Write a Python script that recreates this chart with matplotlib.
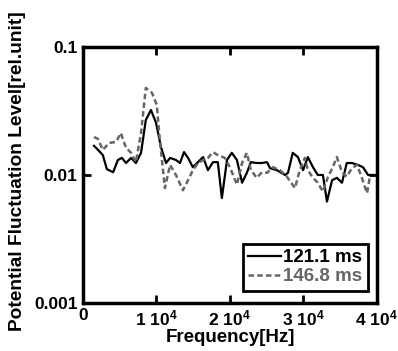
import matplotlib
matplotlib.use("Agg")
import matplotlib.pyplot as plt

plt.rcParams['font.family'] = ['Liberation Sans', 'DejaVu Sans']
plt.rcParams['font.weight'] = 'bold'
plt.rcParams['mathtext.fontset'] = 'custom'
plt.rcParams['mathtext.rm'] = 'Liberation Sans:bold'
plt.rcParams['mathtext.it'] = 'Liberation Sans:bold'
plt.rcParams['mathtext.bf'] = 'Liberation Sans:bold'

# 121.1 ms trace
freq_a = [1500, 2050, 2700, 3250, 4100, 4750, 5300, 5850, 6550, 7200,
          7900, 8550, 9250, 9950, 10600, 11300, 11850, 12650, 13200, 13750,
          14300, 14950, 15650, 16350, 17000, 17700, 18350, 18900, 19600, 20250,
          20950, 21650, 22300, 22850, 23650, 24350, 25050, 25450, 26400, 27500,
          27900, 28550, 29250, 29950, 30600, 31300, 31950, 32650, 33200, 33900,
          34550, 35250, 35900, 36600, 37400, 38100, 38800, 39450, 40000]
level_a = [0.0169, 0.0157, 0.0143, 0.0111, 0.0105, 0.0131, 0.0136, 0.0124, 0.0136, 0.0124,
           0.0149, 0.0269, 0.0322, 0.0255, 0.0166, 0.0124, 0.0136, 0.0131, 0.0124, 0.0151,
           0.0136, 0.0115, 0.0126, 0.0138, 0.0109, 0.0126, 0.0126, 0.0066, 0.0131, 0.0149,
           0.0131, 0.0087, 0.0104, 0.0126, 0.0124, 0.0124, 0.0126, 0.0113, 0.0109, 0.0100,
           0.0104, 0.0149, 0.0138, 0.0109, 0.0138, 0.0115, 0.0100, 0.0100, 0.0062, 0.0091,
           0.0095, 0.0087, 0.0124, 0.0124, 0.0120, 0.0115, 0.0100, 0.0100, 0.0100]

# 146.8 ms trace
freq_b = [1500, 2050, 2700, 3550, 4500, 5150, 5850, 6550, 7200, 7900,
          8550, 9400, 10050, 10450, 11150, 11850, 12650, 13600, 14300, 14950,
          15650, 16350, 17000, 17700, 18350, 19300, 20000, 20950, 21650, 22300,
          22850, 23650, 24350, 25050, 25850, 26800, 27750, 28850, 29500, 30200,
          30600, 31300, 31950, 32650, 33350, 34000, 34550, 35250, 35900, 36600,
          37300, 37950, 38650, 39050]
level_b = [0.0198, 0.0191, 0.0157, 0.0178, 0.0181, 0.0213, 0.0163, 0.0149, 0.0126, 0.0213,
           0.0479, 0.0438, 0.0352, 0.0188, 0.0079, 0.0120, 0.0100, 0.0076, 0.0091, 0.0109,
           0.0124, 0.0131, 0.0136, 0.0151, 0.0143, 0.0136, 0.0115, 0.0084, 0.0124, 0.0149,
           0.0109, 0.0095, 0.0105, 0.0104, 0.0115, 0.0109, 0.0097, 0.0079, 0.0109, 0.0136,
           0.0109, 0.0095, 0.0087, 0.0074, 0.0097, 0.0115, 0.0138, 0.0105, 0.0097, 0.0113,
           0.0120, 0.0095, 0.0072, 0.0097]

labels = ['121.1 ms', '146.8 ms']
xticks = [0, 10000, 20000, 30000, 40000]
xticklabels = ['0', r'$1\ 10^{4}$', r'$2\ 10^{4}$', r'$3\ 10^{4}$', r'$4\ 10^{4}$']
yticks = [0.001, 0.01, 0.1]
yticklabels = ['0.001', '0.01', '0.1']

fig = plt.figure(figsize=(3.98, 3.51), dpi=100)
ax = fig.add_axes([0.2085, 0.137, 0.7385, 0.729])

ax.plot(freq_a, level_a, color='black', lw=1.6, label=labels[0])
ax.plot(freq_b, level_b, color='#666666', lw=1.8, ls=(0, (2.2, 1.3)), label=labels[1])

ax.set_yscale('log')
ax.set_xlim(0, 40000)
ax.set_ylim(0.001, 0.1)
ax.set_xticks(xticks)
ax.set_xticklabels(xticklabels, fontsize=12.5)
ax.set_yticks(yticks)
ax.set_yticklabels(yticklabels, fontsize=12.5)
ax.minorticks_off()
ax.tick_params(direction='in', length=6, width=2, top=True, right=True, pad=4)

for s in ax.spines.values():
    s.set_linewidth(2.5)

ax.set_xlabel('Frequency[Hz]', fontsize=13.5, fontweight='bold', labelpad=0.5)
ax.set_ylabel('Potential Fluctuation Level[rel.unit]', fontsize=13.8,
              fontweight='bold')
ax.yaxis.set_label_coords(-0.195, 0.516)

leg = ax.legend(loc='lower right', bbox_to_anchor=(0.969, 0.047),
                fontsize=13.5, fancybox=False, edgecolor='black',
                framealpha=1, handlelength=1.75, handletextpad=0.1,
                borderpad=0.3, labelspacing=0.1, borderaxespad=0,
                labelcolor='linecolor')
leg.get_frame().set_linewidth(2)

fig.savefig('out.png', dpi=100)
